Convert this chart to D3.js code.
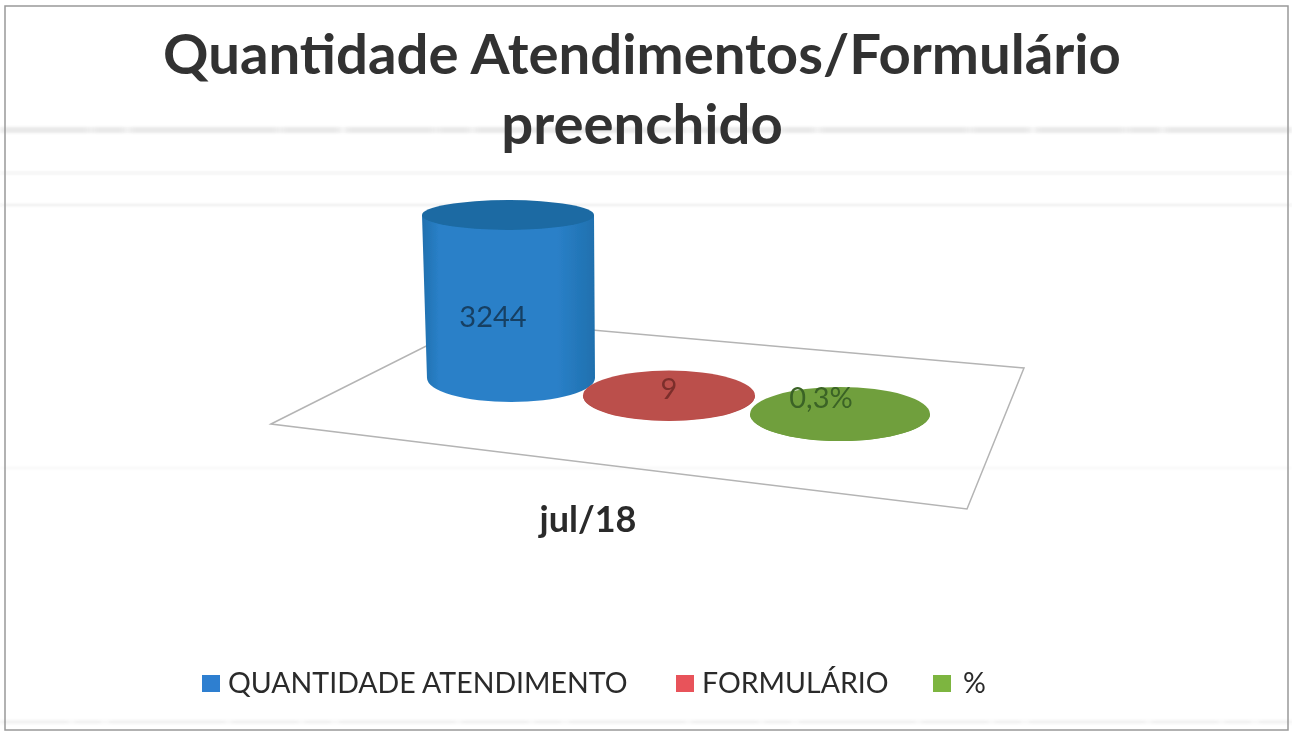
<!DOCTYPE html>
<html>
<head>
<meta charset="utf-8">
<script src="https://cdn.jsdelivr.net/npm/d3@7"></script>
<style>
  body { margin: 0; background: #fff; }
  text { font-family: Lato, "Open Sans", sans-serif; }
</style>
</head>
<body>
<div id="chart"></div>
<script>
const titleLines = ['Quantidade Atendimentos/Formulário', 'preenchido'];
const category = 'jul/18';
const seriesNames = ['QUANTIDADE ATENDIMENTO', 'FORMULÁRIO', '%'];
const seriesValues = [3244, 9, 0.3];
const valueLabels = ['3244', '9', '0,3%'];
const topColors = ['#1c6aa3', '#bb4f4b', '#6f9f3c'];
const sideColors = ['#2a80c8', '#bb4f4b', '#6f9f3c'];
const edgeColors = ['#1f70ae', '#a94542', '#638f35'];
const legendColors = ['#2e7fd0', '#e8525a', '#7db540'];

const width = 1292;
const height = 731;

const svg = d3.select('#chart').append('svg')
  .attr('width', width)
  .attr('height', height)
  .style('display', 'block');

const defs = svg.append('defs');
defs.append('filter').attr('id', 'soft')
  .append('feGaussianBlur').attr('stdDeviation', 0.6);
defs.append('filter').attr('id', 'smear')
  .append('feGaussianBlur').attr('stdDeviation', '3 1.2');

seriesNames.forEach((s, i) => {
  const g = defs.append('linearGradient').attr('id', `side${i}`);
  g.append('stop').attr('offset', '0%').attr('stop-color', edgeColors[i]);
  g.append('stop').attr('offset', '10%').attr('stop-color', sideColors[i]);
  g.append('stop').attr('offset', '78%').attr('stop-color', sideColors[i]);
  g.append('stop').attr('offset', '100%').attr('stop-color', edgeColors[i]);
});

// scan noise from the original page
const noise = [
  {y: 130, w: 6, o: 0.13, dash: '90 2 34 3 150 2 60 4'},
  {y: 173, w: 1.5, o: 0.1, dash: null},
  {y: 205, w: 2, o: 0.1, dash: null},
  {y: 468, w: 1.5, o: 0.04, dash: null},
  {y: 722, w: 3, o: 0.09, dash: '70 3 30 4 120 3'}
];
svg.append('g').attr('filter', 'url(#smear)')
  .selectAll('line').data(noise)
  .enter().append('line')
  .attr('x1', 0).attr('x2', width)
  .attr('y1', d => d.y).attr('y2', d => d.y)
  .attr('stroke', '#555')
  .attr('stroke-width', d => d.w)
  .attr('stroke-dasharray', d => d.dash)
  .attr('opacity', d => d.o);

// frame
svg.append('rect')
  .attr('x', 5).attr('y', 6)
  .attr('width', 1283).attr('height', 724)
  .attr('fill', 'none')
  .attr('stroke', '#999')
  .attr('stroke-width', 1.5);

// floor of the 3d plot
const floor = [[271, 424], [478, 320], [1024, 368], [967, 509]];
svg.append('path')
  .attr('d', d3.line()(floor) + 'Z')
  .attr('fill', 'none')
  .attr('stroke', '#b4b4b4')
  .attr('stroke-width', 1.5)
  .attr('filter', 'url(#soft)');

// series run along the floor, so position and size depend on the point scale
const seriesPos = d3.scalePoint().domain(seriesNames).range([0, 1]);
const xBase = d3.scaleLinear().domain([0, 0.5, 1]).range([511, 669, 840]);
const yBase = d3.scaleLinear().domain([0, 0.5, 1]).range([378, 396, 414]);
const rxBase = d3.scaleLinear().domain([0, 0.5, 1]).range([84, 86, 90]);
const ryBase = d3.scaleLinear().domain([0, 0.5, 1]).range([24, 25, 27]);

const hScale = d3.scaleLinear().domain([0, 3244]).range([0, 163]);
const topShrink = d3.scaleLinear().domain([0, 3244]).range([1, 0.625]);
const topShift = d3.scaleLinear().domain([0, 3244]).range([0, -3]);

const data = seriesNames.map((name, i) => {
  const p = seriesPos(name);
  const v = seriesValues[i];
  return {
    i,
    cx: xBase(p),
    cy: yBase(p),
    rx: rxBase(p),
    ry: ryBase(p),
    topX: xBase(p) + topShift(v),
    topY: yBase(p) - hScale(v),
    topRx: rxBase(p) + (v > 1000 ? 2 : 0),
    topRy: ryBase(p) * topShrink(v)
  };
});

const bars = svg.append('g').attr('filter', 'url(#soft)')
  .selectAll('g').data(data)
  .enter().append('g');

bars.append('path')
  .attr('d', d => {
    const left = d.topX - d.topRx;
    const right = d.topX + d.topRx;
    return `M${left},${d.topY}L${d.cx - d.rx},${d.cy}` +
      `A${d.rx},${d.ry} 0 0 0 ${d.cx + d.rx},${d.cy}` +
      `L${right},${d.topY}Z`;
  })
  .attr('fill', d => `url(#side${d.i})`);

bars.append('ellipse')
  .attr('cx', d => d.topX)
  .attr('cy', d => d.topY)
  .attr('rx', d => d.topRx)
  .attr('ry', d => d.topRy)
  .attr('fill', d => topColors[d.i]);

// value labels
const labelX = [493, 669, 821];
const labelY = [327, 399, 408];
const labelColors = ['#173f63', '#7c2e2c', '#3a6325'];
svg.append('g').selectAll('text').data(valueLabels)
  .enter().append('text')
  .attr('x', (d, i) => labelX[i])
  .attr('y', (d, i) => labelY[i])
  .attr('text-anchor', 'middle')
  .attr('font-size', 29)
  .attr('fill', (d, i) => labelColors[i])
  .attr('filter', 'url(#soft)')
  .text(d => d);

// title
svg.append('g').selectAll('text').data(titleLines)
  .enter().append('text')
  .attr('x', 642)
  .attr('y', (d, i) => 74 + i * 70)
  .attr('text-anchor', 'middle')
  .attr('font-size', 56.3)
  .attr('font-weight', 700)
  .attr('fill', '#333')
  .attr('filter', 'url(#soft)')
  .text(d => d);

// category axis label
svg.append('text')
  .attr('x', 588)
  .attr('y', 532)
  .attr('text-anchor', 'middle')
  .attr('font-size', 36)
  .attr('font-weight', 700)
  .attr('fill', '#2b2b2b')
  .attr('filter', 'url(#soft)')
  .text(category);

// legend
const legendX = [202, 676, 933];
const legendText = [228, 702, 963];
const legend = svg.append('g').attr('filter', 'url(#soft)')
  .selectAll('g').data(seriesNames)
  .enter().append('g');
legend.append('rect')
  .attr('x', (d, i) => legendX[i])
  .attr('y', 675)
  .attr('width', 18)
  .attr('height', 17)
  .attr('fill', (d, i) => legendColors[i]);
legend.append('text')
  .attr('x', (d, i) => legendText[i])
  .attr('y', 693)
  .attr('font-size', 28.5)
  .attr('fill', '#2b2b2b')
  .text(d => d);
</script>
</body>
</html>
